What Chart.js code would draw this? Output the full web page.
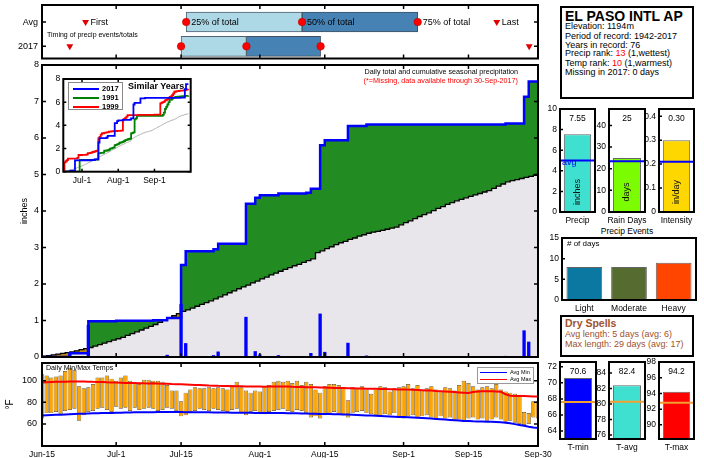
<!DOCTYPE html>
<html><head><meta charset="utf-8">
<script src="https://cdn.jsdelivr.net/npm/chart.js@4.4.1/dist/chart.umd.min.js"></script>
<style>
body{margin:0;width:704px;height:458px;overflow:hidden;background:#fff;font-family:'Liberation Sans',Arial,sans-serif;position:relative}
canvas{position:absolute}
.t{position:absolute;white-space:nowrap;line-height:1}
.box{position:absolute;border:2px solid #000;background:#fff;box-sizing:border-box}
</style></head><body>
<div class="t" style="left:47px;top:31px;font-size:7px;z-index:5">Timing of precip events/totals</div>
<div class="t" style="left:300px;top:68px;width:218px;text-align:right;font-size:7.2px;z-index:5">Daily total and cumulative seasonal precipitation</div>
<div class="t" style="left:300px;top:77px;width:218px;text-align:right;font-size:7.2px;color:#FF0000;z-index:5">(*=Missing, data available through 30-Sep-2017)</div>
<div class="t" style="left:128px;top:82px;font-size:9px;font-weight:bold;z-index:5">Similar Years</div>
<div style="position:absolute;left:68px;top:82px;width:55px;height:28px;border:1px solid #888;background:#fff;z-index:4;box-sizing:border-box"></div>
<div style="position:absolute;left:73px;top:87.5px;width:26px;border-top:2px solid #0000FF;z-index:5"></div>
<div class="t" style="left:102px;top:85px;font-size:7.5px;font-weight:bold;z-index:5">2017</div>
<div style="position:absolute;left:73px;top:96.5px;width:26px;border-top:2px solid #008000;z-index:5"></div>
<div class="t" style="left:102px;top:94px;font-size:7.5px;font-weight:bold;z-index:5">1991</div>
<div style="position:absolute;left:73px;top:105.5px;width:26px;border-top:2px solid #FF0000;z-index:5"></div>
<div class="t" style="left:102px;top:103px;font-size:7.5px;font-weight:bold;z-index:5">1999</div>
<div class="t" style="left:46px;top:365px;font-size:7.1px;z-index:5">Daily Min/Max Temps</div>
<div style="position:absolute;left:477px;top:367px;width:57px;height:17px;border:1px solid #999;background:#fff;z-index:4;box-sizing:border-box"></div>
<div style="position:absolute;left:480px;top:371.5px;width:27px;border-top:1.5px solid #0000FF;z-index:5"></div>
<div class="t" style="left:510px;top:369.5px;font-size:5.5px;z-index:5">Avg Min</div>
<div style="position:absolute;left:480px;top:378.5px;width:27px;border-top:1.5px solid #FF0000;z-index:5"></div>
<div class="t" style="left:510px;top:376.5px;font-size:5.5px;z-index:5">Avg Max</div>

<div class="box" style="left:560px;top:6px;width:134px;height:93px"></div>
<div class="t" style="left:565px;top:9px;font-size:14px;font-weight:bold">EL PASO INTL AP</div>
<div class="t" style="left:565px;top:22px;font-size:9px">Elevation: 1194m</div>
<div class="t" style="left:565px;top:31.5px;font-size:9px">Period of record: 1942-2017</div>
<div class="t" style="left:565px;top:40.5px;font-size:9px">Years in record: 76</div>
<div class="t" style="left:565px;top:49.3px;font-size:9px">Precip rank: <span style="color:#FF0000">13</span> (1,wettest)</div>
<div class="t" style="left:565px;top:58.5px;font-size:9px">Temp rank: <span style="color:#FF0000">10</span> (1,warmest)</div>
<div class="t" style="left:565px;top:67.5px;font-size:9px">Missing in 2017: 0 days</div>
<div class="t" style="left:597px;top:227px;width:60px;text-align:center;font-size:8.5px">Precip Events</div>
<div class="t" style="left:567px;top:240px;font-size:8px;z-index:5"># of days</div>
<div class="box" style="left:560px;top:315px;width:134px;height:42px"></div>
<div class="t" style="left:565px;top:318px;font-size:10.5px;font-weight:bold;color:#A0522D">Dry Spells</div>
<div class="t" style="left:565px;top:329.5px;font-size:9px;color:#A0522D">Avg length: 5 days (avg: 6)</div>
<div class="t" style="left:565px;top:339.5px;font-size:9px;color:#A0522D">Max length: 29 days (avg: 17)</div>
<script>
// ---------------- DATA ----------------
const tickDays = [0,16,30,47,61,78,92,107];
const tickLabels = ['Jun-15','Jul-1','Jul-15','Aug-1','Aug-15','Sep-1','Sep-15','Sep-30'];
const insetTickDays = [16,47,78];
const insetTickLabels = ['Jul-1','Aug-1','Sep-1'];

const timingRows = ['2017','Avg'];
const avgTiming = [9.4, 31.1, 56.1, 81.05, 98.1];
const timing2017 = [6, 30, 44.1, 60.1, 105.1];
const avgTimingLabels = ['First','25% of total','50% of total','75% of total','Last'];

const dailyPrecip = [
0,0,0,0,0,0,0.10,0,0,0,
0.88,0,0,0,0,0,0.01,0,0,0,
0,0,0,0,0.02,0,0,0.06,0,0,
1.45,0.38,0,0,0,0,0,0.05,0.15,0,
0,0,0,0,1.10,0,0.16,0.07,0,0,
0,0.05,0,0,0,0,0,0.02,0.11,0,
1.19,0.14,0,0,0,0,0.39,0,0,0,
0.04,0,0,0,0,0,0,0,0,0,
0,0,0,0,0,0,0,0,0,0,
0,0,0,0,0,0,0,0,0,0,
0.03,0,0,0,0.73,0.42,0,0];
const cum2017 = [
0,0,0,0,0,0,0.10,0.10,0.10,0.10,
0.98,0.98,0.98,0.98,0.98,0.98,0.99,0.99,0.99,0.99,
0.99,0.99,0.99,0.99,1.01,1.01,1.01,1.07,1.07,1.07,
2.52,2.90,2.90,2.90,2.90,2.90,2.90,2.95,3.10,3.10,
3.10,3.10,3.10,3.10,4.20,4.20,4.36,4.43,4.43,4.43,
4.43,4.48,4.48,4.48,4.48,4.48,4.48,4.50,4.61,4.61,
5.80,5.94,5.94,5.94,5.94,5.94,6.33,6.33,6.33,6.33,
6.37,6.37,6.37,6.37,6.37,6.37,6.37,6.37,6.37,6.37,
6.37,6.37,6.37,6.37,6.37,6.37,6.37,6.37,6.37,6.37,
6.37,6.37,6.37,6.37,6.37,6.37,6.37,6.37,6.37,6.37,
6.40,6.40,6.40,6.40,7.13,7.55,7.55,7.55];
const avgCum = [
0.02,0.04,0.06,0.08,0.10,0.12,0.14,0.17,0.20,0.23,
0.26,0.30,0.34,0.38,0.42,0.46,0.50,0.54,0.59,0.64,
0.69,0.74,0.79,0.84,0.89,0.95,1.01,1.07,1.13,1.19,
1.25,1.29,1.34,1.39,1.44,1.49,1.54,1.59,1.65,1.70,
1.76,1.81,1.87,1.92,1.97,2.03,2.08,2.14,2.19,2.25,
2.30,2.35,2.40,2.45,2.50,2.54,2.59,2.64,2.69,2.86,
2.91,2.97,3.02,3.08,3.13,3.17,3.22,3.26,3.31,3.35,
3.39,3.42,3.44,3.47,3.50,3.53,3.56,3.62,3.68,3.73,
3.79,3.85,3.90,3.95,4.01,4.07,4.12,4.18,4.23,4.28,
4.32,4.36,4.40,4.44,4.48,4.52,4.56,4.62,4.68,4.74,
4.80,4.83,4.86,4.89,4.92,4.95,4.98,5.01];
const cum1991 = [
0,0,0,0,0,0,0,0,0,0,
0,0,0,0,1.01,1.01,1.01,1.01,1.01,1.01,
1.02,1.02,1.02,1.02,1.02,1.02,1.03,1.05,1.05,1.05,
1.58,1.60,1.62,1.62,1.65,1.81,1.81,1.83,1.85,1.90,
2.00,2.02,2.05,2.10,2.30,2.32,2.35,2.40,2.50,2.52,
2.55,2.60,2.65,2.73,2.75,2.80,2.82,2.85,3.31,3.35,
3.40,4.52,4.60,4.81,4.81,4.81,4.81,4.81,4.81,4.81,
4.81,4.81,4.81,4.82,4.82,4.82,4.82,4.82,4.82,4.82,
4.82,4.83,4.83,4.83,4.83,4.90,5.10,5.42,5.60,5.80,
6.00,6.19,6.22,6.30,6.40,6.42,6.45,6.45,6.48,6.48,
6.50,6.50,6.52,6.52,6.55,6.55,6.55,6.56];
const cum1999 = [
0,0.81,0.90,1.00,1.12,1.12,1.12,1.12,1.12,1.12,
1.12,1.12,1.20,1.44,1.44,1.44,1.45,1.45,1.45,1.45,
1.50,1.60,1.60,1.62,1.65,1.70,1.72,1.75,1.80,1.82,
2.88,3.00,3.20,3.31,3.32,3.35,3.38,3.40,3.42,3.45,
3.45,3.48,3.50,3.50,3.50,3.50,3.52,3.52,3.52,3.55,
3.55,4.50,4.55,4.65,4.75,4.89,4.89,4.89,4.89,4.89,
4.89,4.89,4.89,4.89,4.90,4.90,4.90,4.90,4.90,4.90,
4.90,4.90,4.91,4.91,4.91,4.91,4.91,4.91,4.92,4.92,
4.92,4.92,4.92,5.90,5.95,6.00,6.05,6.15,6.20,6.25,
6.35,6.45,6.50,6.60,6.75,6.90,6.92,6.95,6.95,6.97,
7.00,7.00,7.00,7.02,7.05,7.08,7.10,7.12];

const tmax = [
106,105,103,104,105,109,112,110,95,93,94,97,103,103,105,102,
100,103,105,100,98,97,101,101,100,100,99,96,91,91,
81,89,92,94,93,93,94,93,94,93,92,96,99,94,91,89,91,
90,95,96,99,100,99,100,98,100,96,99,97,92,89,
95,97,97,96,93,82,94,93,95,92,88,92,95,94,90,93,94,
95,97,93,96,91,93,95,92,90,94,93,91,96,100,98,
95,92,94,95,93,97,92,90,89,88,87,71,70,81,81];
const tmin = [
65,70,70,71,69,72,73,74,63,68,71,72,74,75,73,71,
76,74,75,72,75,73,74,75,74,72,73,75,74,72,
67,68,71,72,74,73,72,74,73,72,71,73,74,70,68,71,72,
70,69,71,72,73,74,72,71,73,72,70,66,67,65,
68,70,71,69,68,66,70,71,72,70,69,68,67,69,68,70,66,
65,67,68,66,67,68,66,64,67,65,66,63,64,62,65,
66,64,65,63,64,66,64,62,63,61,60,59,60,66,65];
const avgMaxT = [
98.5,98.7,98.9,99.0,99.1,99.2,99.3,99.3,99.4,99.3,99.2,99.0,98.9,98.8,98.6,98.5,
98.3,98.2,98.0,97.9,97.9,97.8,97.6,97.5,97.6,97.4,97.3,97.2,97.0,96.9,
96.7,96.5,96.3,96.1,96.0,95.8,95.6,95.5,95.3,95.2,95.1,95.0,95.0,94.9,94.8,94.7,94.6,
94.6,94.5,94.6,94.7,94.8,94.7,94.6,94.4,94.3,94.2,94.1,94.0,93.9,93.8,
93.7,93.6,93.4,93.3,93.2,93.1,93.0,92.9,92.8,92.7,92.6,92.5,92.4,92.3,92.2,92.1,92.0,
91.9,91.8,91.6,91.5,91.3,91.1,90.9,90.6,90.4,90.1,89.8,89.5,89.2,88.9,88.6,
89.6,90.0,90.2,90.3,90.2,90.0,89.8,87.5,86.2,86.0,86.0,85.9,85.7,85.5,85.4];
const avgMinT = [
67.8,68.0,68.2,68.4,68.6,68.8,69.0,69.2,69.4,69.5,69.7,69.8,69.9,70.0,70.1,70.2,
70.3,70.4,70.5,70.6,70.7,70.8,70.8,70.9,70.9,71.0,71.0,71.0,71.0,71.0,
71.0,70.9,70.9,70.8,70.8,70.7,70.7,70.6,70.6,70.5,70.5,70.4,70.4,70.4,70.3,70.3,70.2,
70.2,70.2,70.1,70.1,70.0,70.0,69.9,69.9,69.8,69.7,69.6,69.5,69.4,69.3,
69.2,69.1,69.0,68.9,68.8,68.7,68.5,68.3,68.1,67.9,67.7,67.5,67.3,67.1,66.9,66.7,66.5,
66.3,66.1,65.9,65.7,65.5,65.2,64.9,64.6,64.3,64.0,63.7,63.4,63.1,62.8,62.6,
62.4,62.3,62.2,62.1,62.0,61.8,61.6,61.1,60.5,59.8,59.0,58.2,57.4,56.7,56.2];
const tempTicks = [60,80,100];

const summaryNames = ['Precip','Rain Days','Intensity'];
const summaryValues = [7.55, 25, 0.30];
const summaryAvgs = [5.0, 23.4, 0.21];
const summaryUnits = ['inches','days','in/day'];
const eventNames = ['Light','Moderate','Heavy'];
const eventDays = [8, 8, 9];
const tempNames = ['T-min','T-avg','T-max'];
const tempValues = [70.6, 82.4, 94.2];
const tempAvgs = [67.6, 80.3, 92.8];

// ---------------- SETUP ----------------
const FF = "'Liberation Sans', Arial, sans-serif";
Chart.defaults.font.family = FF;
Chart.defaults.color = '#000';
Chart.defaults.animation = false;
Chart.defaults.responsive = false;
Chart.defaults.devicePixelRatio = 1;
Chart.defaults.plugins.legend.display = false;
Chart.defaults.plugins.tooltip.enabled = false;
Chart.defaults.elements.point.radius = 0;

function mk(l,t,w,h,z){const c=document.createElement('canvas');c.width=w;c.height=h;c.style.left=l+'px';c.style.top=t+'px';c.style.zIndex=z||1;document.body.appendChild(c);return c;}
const W = w => s => { s.width = w; s.paddingTop = 0; s.paddingBottom = 0; };
const H = h => s => { s.height = h; s.paddingLeft = 0; s.paddingRight = 0; };
const pts = arr => arr.map((v,i)=>({x:i,y:v}));
const setTicks = arr => s => { s.ticks = arr.map(v=>({value:v})); };
const noGrid = {display:false, drawTicks:false};

function frame(o){ return { id:'frame', afterDatasetsDraw(chart){
  const {ctx, chartArea:a} = chart; const xs=chart.scales.x, ys=chart.scales.y; const L=o.len||4;
  ctx.save(); ctx.strokeStyle='#000'; ctx.lineWidth=o.tw||1.5; ctx.beginPath();
  (o.xt||[]).forEach(v=>{const p=xs.getPixelForValue(v); ctx.moveTo(p,a.bottom); ctx.lineTo(p,a.bottom-L); ctx.moveTo(p,a.top); ctx.lineTo(p,a.top+L);});
  (o.yt||[]).forEach(v=>{const p=ys.getPixelForValue(v); ctx.moveTo(a.left,p); ctx.lineTo(a.left+L,p); if(!o.noRight){ctx.moveTo(a.right,p); ctx.lineTo(a.right-L,p);}});
  ctx.stroke(); ctx.lineWidth=o.lw||2; ctx.strokeRect(a.left,a.top,a.right-a.left,a.bottom-a.top); ctx.restore(); } }; }

// ---------------- TIMING PANEL ----------------
new Chart(mk(0,0,545,63,2), { type:'bar',
  data:{ datasets:[
    {type:'scatter', data:[1,2,3].map(i=>({x:avgTiming[i],y:1})).concat([1,2,3].map(i=>({x:timing2017[i],y:0}))), pointStyle:'circle', pointRadius:3.8, backgroundColor:'#FF0000', borderColor:'#B00000', borderWidth:0.5},
    {type:'scatter', data:[0,4].map(i=>({x:avgTiming[i],y:1})).concat([0,4].map(i=>({x:timing2017[i],y:0}))), pointStyle:'triangle', rotation:180, pointRadius:4, backgroundColor:'#E00000', borderWidth:0},
    {indexAxis:'y', data:[{y:1,x:[avgTiming[1],avgTiming[2]]},{y:0,x:[timing2017[1],timing2017[2]]}], backgroundColor:'#ADD8E6', borderColor:'#506070', borderWidth:1, barThickness:20, grouped:false, borderSkipped:false},
    {indexAxis:'y', data:[{y:1,x:[avgTiming[2],avgTiming[3]]},{y:0,x:[timing2017[2],timing2017[3]]}], backgroundColor:'#4682B4', borderColor:'#405060', borderWidth:1, barThickness:20, grouped:false, borderSkipped:false}
  ]},
  options:{ layout:{padding:{left:0,top:5,right:7,bottom:1.6}},
    scales:{
      x:{type:'linear', min:0, max:107, offset:false, display:false},
      y:{type:'linear', min:-0.5, max:1.7, offset:false, afterBuildTicks:setTicks([0,1]), afterFit:W(42), ticks:{callback:v=>timingRows[v], padding:4, font:{size:9}}, grid:noGrid, border:{display:false}}
    }},
  plugins:[{id:'tl', afterDatasetsDraw(chart){ const {ctx}=chart; const xs=chart.scales.x, ys=chart.scales.y; ctx.save(); ctx.font='9px '+FF; ctx.fillStyle='#000'; ctx.textBaseline='middle'; ctx.textAlign='left';
      avgTiming.forEach((d,i)=>ctx.fillText(avgTimingLabels[i], xs.getPixelForValue(d)+5, ys.getPixelForValue(1)+0.5)); ctx.restore(); }},
    frame({xt:tickDays, yt:[0,1]})]
});

// ---------------- MAIN PRECIP CHART ----------------
new Chart(mk(0,60,545,302,1), { type:'bar',
  data:{ datasets:[
    {type:'bar', data:pts(dailyPrecip), backgroundColor:'#0000FF', barPercentage:0.9, categoryPercentage:0.8},
    {type:'line', data:pts(cum2017), borderColor:'#0000FF', borderWidth:2.5, stepped:true, fill:false, pointRadius:0},
    {type:'line', data:pts(avgCum), borderColor:'#000', borderWidth:1.3, stepped:true, fill:false, pointRadius:0},
    {type:'line', data:pts(cum2017), borderColor:'rgba(0,0,0,0)', borderWidth:0, stepped:true, pointRadius:0, fill:{target:4, above:'#228B22', below:'#B8860B'}},
    {type:'line', data:pts(avgCum), borderColor:'rgba(0,0,0,0)', borderWidth:0, stepped:true, pointRadius:0, fill:'origin', backgroundColor:'#E8E6EA'}
  ]},
  options:{ layout:{padding:{left:15,top:5,right:7,bottom:5}},
    scales:{
      x:{type:'linear', min:0, max:107, offset:false, display:false},
      y:{type:'linear', min:0, max:8, afterFit:W(27), ticks:{stepSize:1, padding:3, font:{size:9}}, grid:noGrid, border:{display:false},
         title:{display:true, text:'inches', font:{size:9}, padding:{top:4,bottom:0}}}
    }},
  plugins:[frame({xt:tickDays, yt:[0,1,2,3,4,5,6,7,8]})]
});

// ---------------- INSET ----------------
new Chart(mk(40,70,155,118,3), { type:'line',
  data:{ datasets:[
    {data:pts(cum2017), borderColor:'#0000FF', borderWidth:1.8, stepped:true, pointRadius:0},
    {data:pts(cum1999), borderColor:'#FF0000', borderWidth:1.8, stepped:true, pointRadius:0},
    {data:pts(cum1991), borderColor:'#008000', borderWidth:1.8, stepped:true, pointRadius:0},
    {data:pts(avgCum), borderColor:'#A0A0A0', borderWidth:0.8, pointRadius:0}
  ]},
  options:{ layout:{padding:{left:0,top:9,right:4.3,bottom:0}},
    scales:{
      x:{type:'linear', min:0, max:109, afterBuildTicks:setTicks(insetTickDays), afterFit:H(16.3), ticks:{callback:(v,i)=>insetTickLabels[i], autoSkip:false, maxRotation:0, padding:4, font:{size:8.5}}, grid:noGrid, border:{display:false}},
      y:{type:'linear', min:0, max:8, afterBuildTicks:setTicks([0,2,4,6,8]), afterFit:W(23.3), ticks:{padding:3, font:{size:8.5}}, grid:noGrid, border:{display:false}}
    }},
  plugins:[{id:'bg', beforeDatasetsDraw(chart){const {ctx,chartArea:a}=chart; ctx.save(); ctx.fillStyle='#fff'; ctx.fillRect(a.left,a.top,a.right-a.left,a.bottom-a.top); ctx.restore();}},
    frame({xt:insetTickDays, yt:[0,2,4,6,8], len:3})]
});

// ---------------- TEMPERATURE PANEL ----------------
new Chart(mk(0,360,560,98,1), { type:'bar',
  data:{ datasets:[
    {type:'line', data:pts(avgMinT), borderColor:'#0000FF', borderWidth:2, pointRadius:0},
    {type:'line', data:pts(avgMaxT), borderColor:'#FF0000', borderWidth:2, pointRadius:0},
    {type:'bar', data:tmin.map((v,i)=>({x:i, y:[v, tmax[i]]})), backgroundColor:'#FFA500', borderColor:'#5a4a30', borderWidth:0.7, barPercentage:0.92, categoryPercentage:1, borderSkipped:false}
  ]},
  options:{ layout:{padding:{left:2,top:3,right:22,bottom:0}},
    scales:{
      x:{type:'linear', min:0, max:107, offset:false, afterBuildTicks:setTicks(tickDays), afterFit:H(12), ticks:{callback:(v,i)=>tickLabels[i], autoSkip:false, maxRotation:0, padding:4, font:{size:8.5}}, grid:noGrid, border:{display:false}},
      y:{type:'linear', min:39.5, max:116.5, afterBuildTicks:setTicks(tempTicks), afterFit:W(40), ticks:{padding:5, font:{size:9}}, grid:noGrid, border:{display:false},
         title:{display:true, text:'°F', font:{size:10}, padding:{top:2,bottom:0}}}
    }},
  plugins:[frame({xt:tickDays, yt:tempTicks})]
});

// ---------------- SMALL RIGHT PANELS ----------------
function deco(o){ return {id:'deco', afterDatasetsDraw(chart){
  const {ctx, chartArea:a} = chart; const y = chart.scales.y; ctx.save();
  if (o.avg!=null){ const p=y.getPixelForValue(o.avg); ctx.strokeStyle=o.avgColor; ctx.lineWidth=2; ctx.beginPath(); ctx.moveTo(a.left,p); ctx.lineTo(a.right,p); ctx.stroke();
    if (o.avgText){ ctx.fillStyle=o.avgColor; ctx.font='9px '+FF; ctx.textAlign='left'; ctx.textBaseline='middle'; ctx.fillText(o.avgText, a.left+2, p+2.5); } }
  if (o.valueText){ ctx.fillStyle='#000'; ctx.font='8.5px '+FF; ctx.textAlign='center'; ctx.textBaseline='middle'; ctx.fillText(o.valueText, (a.left+a.right)/2, a.top+10); }
  if (o.unit){ ctx.translate((a.left+a.right)/2, a.bottom-20); ctx.rotate(-Math.PI/2); ctx.font='9px '+FF; ctx.textAlign='center'; ctx.textBaseline='middle'; ctx.fillStyle='#111'; ctx.fillText(o.unit,0,0); }
  ctx.restore(); }}; }

function panel(o){
  const cw = o.axisW + o.w + o.padR, ch = 4 + o.h + o.labelH;
  new Chart(mk(o.x - o.axisW, o.y - 4, cw, ch, 2), { type:'bar',
    data:{ labels:o.names, datasets:[{data:o.values, backgroundColor:o.colors, borderColor:'#666', borderWidth:1, barPercentage:o.bp, categoryPercentage:1}]},
    options:{ layout:{padding:{left:0,top:4,right:o.padR,bottom:0}},
      scales:{
        x:{afterFit:H(o.labelH), ticks:{font:{size:8.5}, padding:4, maxRotation:0, autoSkip:false}, grid:noGrid, border:{display:false}},
        y:{type:'linear', min:o.min, max:o.max, afterBuildTicks:setTicks(o.ticks), afterFit:W(o.axisW), ticks:{font:{size:8.5}, padding:3, callback:o.fmt||(v=>v)}, grid:noGrid, border:{display:false}}
      }},
    plugins:[deco(o), frame({yt:o.ticks, len:3, noRight:true})]
  });
}

panel({x:560, y:109, w:35.7, h:103.7, axisW:20, padR:6, labelH:17, names:[summaryNames[0]], values:[summaryValues[0]], colors:['#40E0D0'], bp:0.78,
  min:0, max:10, ticks:[0,2,4,6,8,10], avg:summaryAvgs[0], avgColor:'#0000FF', avgText:'avg', valueText:summaryValues[0].toFixed(2), unit:summaryUnits[0]});
panel({x:609, y:109, w:36, h:103.7, axisW:20, padR:6, labelH:17, names:[summaryNames[1]], values:[summaryValues[1]], colors:['#7CFC00'], bp:0.78,
  min:0, max:47.6, ticks:[0,10,20,30,40], avg:summaryAvgs[1], avgColor:'#0000FF', valueText:String(summaryValues[1]), unit:summaryUnits[1]});
panel({x:659, y:109, w:35, h:103.7, axisW:23, padR:6, labelH:17, names:[summaryNames[2]], values:[summaryValues[2]], colors:['#FFD700'], bp:0.78,
  min:0, max:0.43, ticks:[0,0.1,0.2,0.3,0.4], fmt:v=>v===0?'0':v.toFixed(1), avg:summaryAvgs[2], avgColor:'#0000FF', valueText:summaryValues[2].toFixed(2), unit:summaryUnits[2]});

panel({x:562, y:238, w:134, h:62, axisW:22, padR:4, labelH:14, names:eventNames, values:eventDays, colors:['#0A78A0','#556B2F','#FF4500'], bp:0.8,
  min:0, max:15, ticks:[0,5,10,15]});

panel({x:560, y:362, w:36, h:77, axisW:20, padR:6, labelH:19, names:[tempNames[0]], values:[tempValues[0]], colors:['#0000FF'], bp:0.78,
  min:63, max:72.6, ticks:[64,66,68,70,72], avg:tempAvgs[0], avgColor:'#F0A030', valueText:tempValues[0].toFixed(1)});
panel({x:609, y:362, w:36, h:77, axisW:20, padR:6, labelH:19, names:[tempNames[1]], values:[tempValues[1]], colors:['#40E0D0'], bp:0.78,
  min:75.5, max:85.4, ticks:[76,78,80,82,84], avg:tempAvgs[1], avgColor:'#F0A030', valueText:tempValues[1].toFixed(1)});
panel({x:659, y:362, w:35, h:77, axisW:20, padR:6, labelH:19, names:[tempNames[2]], values:[tempValues[2]], colors:['#FF0000'], bp:0.78,
  min:88.2, max:98, ticks:[90,92,94,96,98], avg:tempAvgs[2], avgColor:'#F0A030', valueText:tempValues[2].toFixed(1)});
</script>
</body></html>
